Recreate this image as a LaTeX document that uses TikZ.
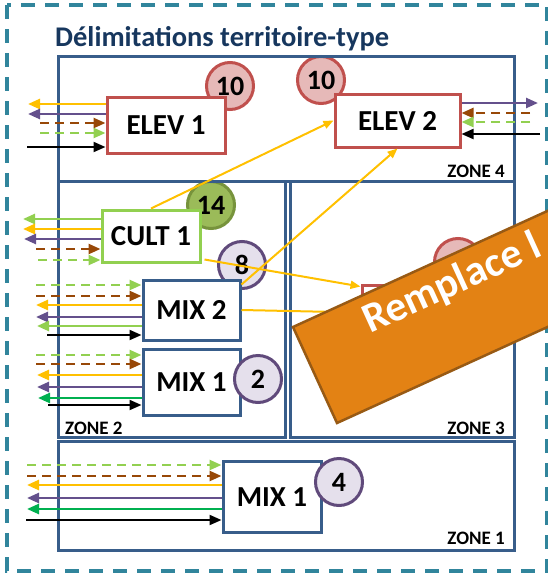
\documentclass[tikz,border=0pt]{standalone}
\usepackage{fontspec}
\setmainfont{Carlito}
\usetikzlibrary{arrows.meta,backgrounds,positioning}

\definecolor{frameteal}{RGB}{49,133,156}
\definecolor{titleblue}{RGB}{23,55,94}
\definecolor{zoneblue}{RGB}{56,93,138}
\definecolor{elevred}{RGB}{192,80,77}
\definecolor{elevpink}{RGB}{230,185,184}
\definecolor{cultgreen}{RGB}{146,208,80}
\definecolor{badgegreen}{RGB}{155,187,89}
\definecolor{badgegreenline}{RGB}{119,147,60}
\definecolor{mixlilac}{RGB}{229,224,236}
\definecolor{mixpurple}{RGB}{96,74,123}
\definecolor{flowyellow}{RGB}{255,192,0}
\definecolor{flowpurple}{RGB}{100,80,140}
\definecolor{flowbrown}{RGB}{152,72,7}
\definecolor{flowgreen}{RGB}{0,176,80}
\definecolor{bannerorange}{RGB}{227,130,20}
\definecolor{bannerline}{RGB}{152,90,20}

\begin{document}
\begin{tikzpicture}[x=1pt, y=-1pt,
	zone/.style={draw=zoneblue, line width=3pt},
	zonetag/.style={font=\bfseries\fontsize{19}{19}\selectfont, inner sep=0pt},
	unit/.style={draw, fill=white, line width=3pt, inner sep=0pt, font=\bfseries\fontsize{29}{29}\selectfont},
	badge/.style={circle, draw, line width=3pt, minimum size=47pt, inner sep=0pt, font=\bfseries\fontsize{28}{28}\selectfont},
	link/.style={flowyellow, line width=2pt, -{Triangle[length=10pt,width=8pt]}},
	toward/.style={-{Triangle[length=12pt,width=10pt]}},
	away/.style={{Triangle[length=12pt,width=10pt]}-},
	yel/.style={flowyellow, line width=2.5pt},
	pur/.style={flowpurple, line width=2.5pt},
	brn/.style={flowbrown, line width=2.5pt, dash pattern=on 9pt off 6pt},
	lgd/.style={cultgreen, line width=2.5pt, dash pattern=on 9pt off 6pt},
	lgs/.style={cultgreen, line width=2.5pt},
	grn/.style={flowgreen, line width=2.5pt},
	blk/.style={black, line width=2pt}]

	\useasboundingbox (0,0) rectangle (548,574);
	\clip (0,0) rectangle (548,574);

	% frame and title
	\draw[frameteal, line width=3.5pt, dash pattern=on 14pt off 10pt] (7,5) rectangle (547,571);
	\node[anchor=base west, inner sep=0pt, text=titleblue, font=\bfseries\fontsize{28.5}{28.5}\selectfont] (title) at (55,46) {Délimitations territoire-type};

	% zones
	\draw[zone] (58,56) rectangle (514,181);
	\draw[zone] (58,181) rectangle (285,437);
	\draw[zone] (290,181) rectangle (514,437);
	\draw[zone] (58,441) rectangle (514,550);
	\node[zonetag, anchor=base east] (tagD) at (505,177) {ZONE 4};
	\node[zonetag, anchor=base west] (tagB) at (65,434) {ZONE 2};
	\node[zonetag, anchor=base east] (tagC) at (505,434) {ZONE 3};
	\node[zonetag, anchor=base east] (tagA) at (505,544) {ZONE 1};

	% units
	\node[unit, draw=elevred, minimum width=118pt, minimum height=56pt] (elevA) at (166,125) {ELEV 1};
	\node[unit, draw=elevred, minimum width=125pt, minimum height=53pt] (elevB) at (397.5,120.5) {ELEV 2};
	\node[unit, draw=cultgreen, minimum width=98pt, minimum height=52pt] (cultA) at (151,236) {CULT 1};
	\node[unit, draw=zoneblue, minimum width=97pt, minimum height=60pt] (mixB) at (191.5,310) {MIX 2};
	\node[unit, draw=zoneblue, minimum width=97pt, minimum height=66pt] (mixA) at (191.5,382) {MIX 1};
	\node[unit, draw=zoneblue, minimum width=98pt, minimum height=71pt] (mixZ) at (272,497) {MIX 1};
	\node[unit, draw=elevred, minimum width=118pt, minimum height=55pt] (elevC) at (421,312.5) {};

	% badges
	\begin{scope}[on background layer]
		\node[badge, draw=elevred, fill=elevpink] (nbElevA) at (230,86) {10};
		\node[badge, draw=elevred, fill=elevpink] (nbElevB) at (321,80) {10};
		\node[badge, draw=badgegreenline, fill=badgegreen] (nbCult) at (211,205) {14};
		\node[badge, draw=mixpurple, fill=mixlilac] (nbMixB) at (242,265) {8};
	\end{scope}
	\node[badge, draw=mixpurple, fill=mixlilac] (nbMixA) at (258,379) {2};
	\node[badge, draw=mixpurple, fill=mixlilac] (nbMixZ) at (339,482) {4};
	\node[badge, draw=elevred, fill=elevpink] (nbElevC) at (458,262) {};

	% links between units
	\draw[link] (cultA.north) -- (elevB.west);
	\draw[link] ([yshift=-6pt]mixB.north east) -- (elevB.south);
	\draw[link] ([xshift=3pt,yshift=4pt]cultA.south east) -- ([yshift=-3pt]elevC.north west);
	\draw[link] (mixB.east) -- (elevC.west);

	% outside flows
	\foreach \yy/\xx/\col/\dir in {104/28/yel/away, 114/28/pur/away, 123/40/brn/toward, 133/40/lgd/toward, 147/27/blk/toward}
	{
		\coordinate (tail) at (\xx,\yy);
		\draw[\col,\dir] (tail) -- (tail -| elevA.west);
	}
	\foreach \yy/\xx/\col/\dir in {103/538/pur/away, 113/530/brn/toward, 122/530/lgd/toward, 134/540/blk/toward}
	{
		\coordinate (tail) at (\xx,\yy);
		\draw[\col,\dir] (tail) -- (tail -| elevB.east);
	}
	\foreach \yy/\xx/\col/\dir in {219/23/lgs/away, 229/23/yel/away, 239/24/pur/away, 249/36/brn/toward, 260/38/lgd/toward}
	{
		\coordinate (tail) at (\xx,\yy);
		\draw[\col,\dir] (tail) -- (tail -| cultA.west);
	}
	\foreach \yy/\xx/\col/\dir in {285/36/lgd/toward, 296/36/brn/toward, 305/36/yel/away, 317/36/pur/away, 326/37/lgs/away, 335/47/blk/toward}
	{
		\coordinate (tail) at (\xx,\yy);
		\draw[\col,\dir] (tail) -- (tail -| mixB.west);
	}
	\foreach \yy/\xx/\col/\dir in {355/36/lgd/toward, 364/36/brn/toward, 375/37/yel/away, 387/37/pur/away, 398/38/grn/away, 405/48/blk/toward}
	{
		\coordinate (tail) at (\xx,\yy);
		\draw[\col,\dir] (tail) -- (tail -| mixA.west);
	}
	\foreach \yy/\xx/\col/\dir in {465/27/lgd/toward, 476/27/brn/toward, 485/27/yel/away, 498/27/pur/away, 509/27/grn/away, 520/26/blk/toward}
	{
		\coordinate (tail) at (\xx,\yy);
		\draw[\col,\dir] (tail) -- (tail -| mixZ.west);
	}

	% banner
	\filldraw[fill=bannerorange, draw=bannerline, line width=2.5pt] (293,327) -- (337,423) -- (701,257) -- (657,161) -- cycle;
	\node[rotate=24.5, anchor=base west, inner sep=0pt, text=white, font=\bfseries\fontsize{42}{42}\selectfont] (bannertext) at (370,334) {Remplace l};

\end{tikzpicture}
\end{document}
